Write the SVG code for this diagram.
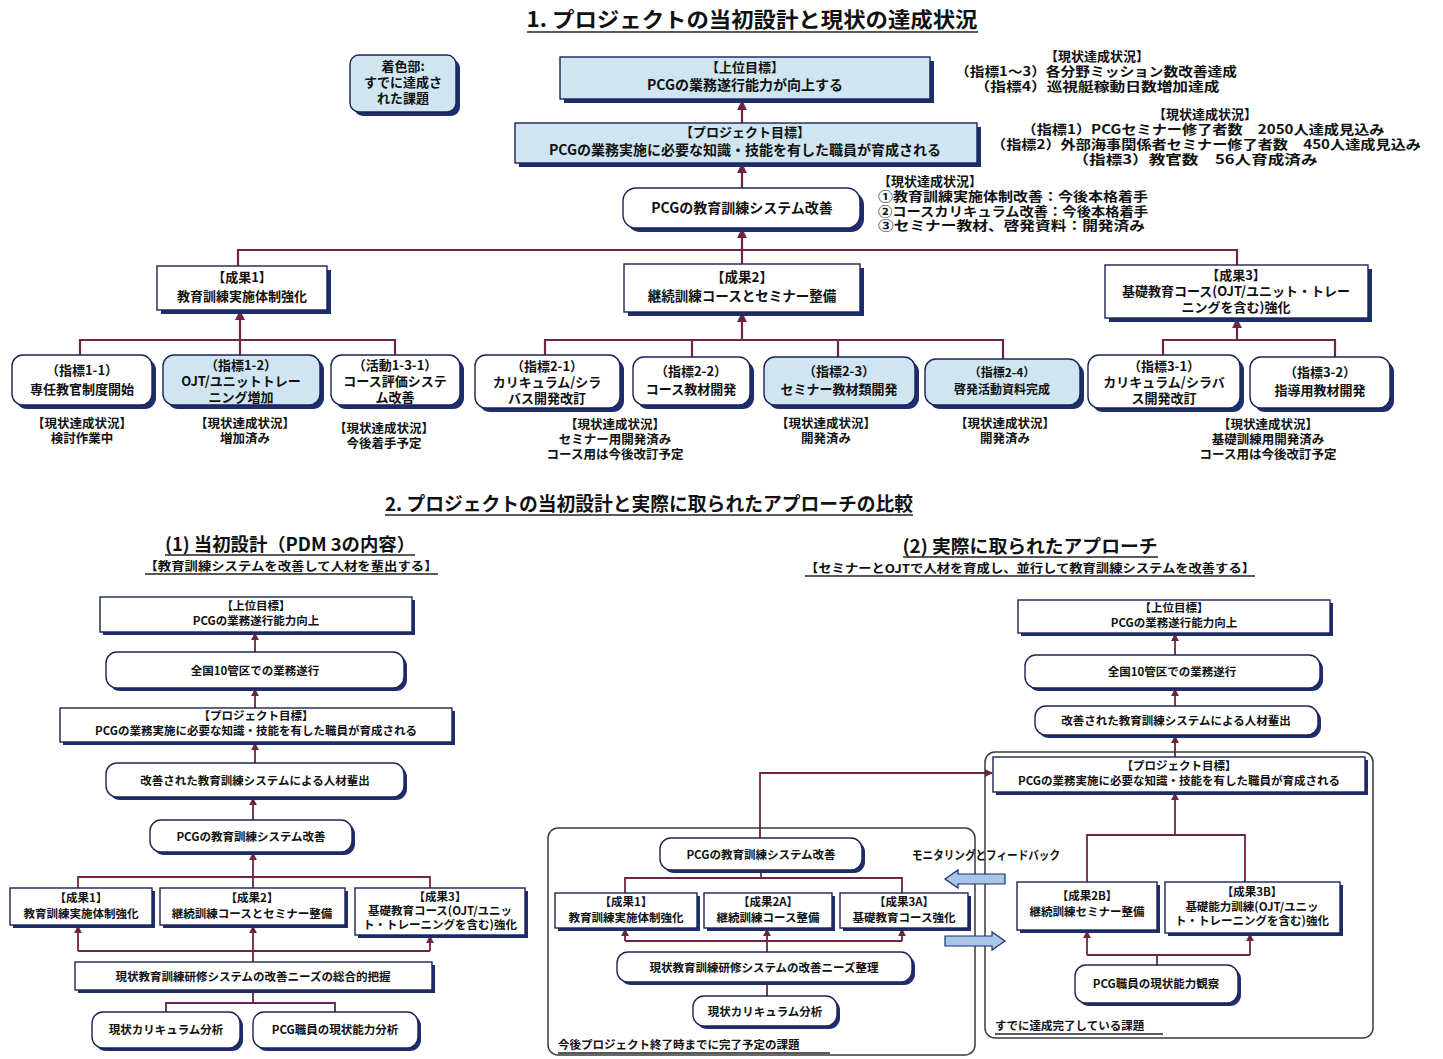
<svg xmlns="http://www.w3.org/2000/svg" width="1443" height="1059" viewBox="0 0 1443 1059">
<defs>
<style>
.sh{fill:#1e2d6e}
.bx{fill:#ffffff;stroke:#1c2354;stroke-width:1.4}
.bl{fill:#cfe5f1;stroke:#1c2354;stroke-width:1.4}
.t{font-family:"Noto Sans CJK JP","Noto Sans",sans-serif;font-weight:700;fill:#111;text-anchor:middle}
.ts{font-family:"Noto Sans CJK JP","Noto Sans",sans-serif;font-weight:700;fill:#111;text-anchor:start}
.f21{font-size:21px}.f19{font-size:19px}.f18{font-size:18px}.f14{font-size:14px}.f135{font-size:13.5px}.f13{font-size:13px}.f125{font-size:12.5px}.f12{font-size:12px}.f115{font-size:11.5px}.f11{font-size:11px}
.ln{fill:none;stroke:#6d2445;stroke-width:2.2}
.ln2{fill:none;stroke:#6d2445;stroke-width:1.8}
.ul{stroke:#222;stroke-width:1.5}
.ctr{fill:none;stroke:#3a3a3a;stroke-width:1.5}
.barrow{fill:#a8c6e6;stroke:#1e2d6e;stroke-width:1.2}
</style>
<marker id="ah" viewBox="0 0 10 10" refX="9" refY="5" markerWidth="4.5" markerHeight="4.5" orient="auto"><path d="M0,0 L10,5 L0,10 z" fill="#6d2445"/></marker>
</defs>
<rect x="0" y="0" width="1443" height="1059" fill="#ffffff"/>

<!-- Titles -->
<g id="title1">
<text class="t f21" x="752" y="27" textLength="451" lengthAdjust="spacingAndGlyphs">1. プロジェクトの当初設計と現状の達成状況</text>
<line class="ul" x1="527" y1="32" x2="978" y2="32"/>
</g>
<g id="title2">
<text class="t f19" x="649" y="511" textLength="528" lengthAdjust="spacingAndGlyphs">2. プロジェクトの当初設計と実際に取られたアプローチの比較</text>
<line class="ul" x1="385" y1="515" x2="913" y2="515"/>
</g>
<g id="sub-left">
<text class="t f18" x="290" y="551" textLength="250" lengthAdjust="spacingAndGlyphs">(1) 当初設計（PDM 3の内容）</text>
<line class="ul" x1="165" y1="555" x2="415" y2="555"/>
<text class="t f12" x="291" y="571" textLength="293" lengthAdjust="spacingAndGlyphs">【教育訓練システムを改善して人材を輩出する】</text>
<line class="ul" x1="145" y1="574" x2="438" y2="574"/>
</g>
<g id="sub-right">
<text class="t f18" x="1030" y="553" textLength="255" lengthAdjust="spacingAndGlyphs">(2) 実際に取られたアプローチ</text>
<line class="ul" x1="903" y1="557" x2="1158" y2="557"/>
<text class="t f12" x="1030" y="573" textLength="450" lengthAdjust="spacingAndGlyphs">【セミナーとOJTで人材を育成し、並行して教育訓練システムを改善する】</text>
<line class="ul" x1="805" y1="576" x2="1255" y2="576"/>
</g>

<!-- Connectors -->
<g id="connectors">
<path class="ln" d="M742,123 V101" marker-end="url(#ah)"/>
<path class="ln" d="M742,188 V164" marker-end="url(#ah)"/>
<path class="ln" d="M742,250 V229" marker-end="url(#ah)"/>
<path class="ln" d="M238,266 V250 H1237 V265"/>
<path class="ln" d="M742,250 V264"/>
<path class="ln" d="M80,355 V340 H395 V355"/>
<path class="ln" d="M240,355 V311" marker-end="url(#ah)"/>
<path class="ln" d="M545,355 V340 H1003 V359"/>
<path class="ln" d="M692,340 V357"/>
<path class="ln" d="M838,340 V357"/>
<path class="ln" d="M742,340 V313" marker-end="url(#ah)"/>
<path class="ln" d="M1163,355 V340 H1335 V357"/>
<path class="ln" d="M1237,340 V319" marker-end="url(#ah)"/>
<path class="ln2" d="M255,652 V633" marker-end="url(#ah)"/>
<path class="ln2" d="M255,708 V689" marker-end="url(#ah)"/>
<path class="ln2" d="M255,763 V743" marker-end="url(#ah)"/>
<path class="ln2" d="M253,820 V798" marker-end="url(#ah)"/>
<path class="ln2" d="M78,888 V877 H430 V888"/>
<path class="ln2" d="M253,888 V853" marker-end="url(#ah)"/>
<path class="ln2" d="M78,951 H430"/>
<path class="ln2" d="M78,951 V926" marker-end="url(#ah)"/>
<path class="ln2" d="M253,962 V926" marker-end="url(#ah)"/>
<path class="ln2" d="M430,951 V936" marker-end="url(#ah)"/>
<path class="ln2" d="M166,1012 V1003 H335 V1012"/>
<path class="ln2" d="M253,1003 V990"/>
<path class="ln2" d="M1175,655 V634" marker-end="url(#ah)"/>
<path class="ln2" d="M1175,706 V689" marker-end="url(#ah)"/>
<path class="ln2" d="M1175,757 V736" marker-end="url(#ah)"/>
<path class="ln2" d="M760,838 V773 H992" marker-end="url(#ah)"/>
<path class="ln2" d="M625,893 V878 H902 V893"/>
<path class="ln2" d="M761,870 V878"/>
<path class="ln2" d="M625,941 H902"/>
<path class="ln2" d="M625,941 V929" marker-end="url(#ah)"/>
<path class="ln2" d="M767,952 V929" marker-end="url(#ah)"/>
<path class="ln2" d="M902,941 V929" marker-end="url(#ah)"/>
<path class="ln2" d="M767,982 V996"/>
<path class="ln2" d="M1087,882 V835 H1245 V882"/>
<path class="ln2" d="M1175,835 V793" marker-end="url(#ah)"/>
<path class="ln2" d="M1087,955 H1250"/>
<path class="ln2" d="M1087,955 V931" marker-end="url(#ah)"/>
<path class="ln2" d="M1250,955 V934" marker-end="url(#ah)"/>
<path class="ln2" d="M1157,965 V955"/>
</g>

<!-- Section 1 nodes -->
<g id="legend">
<rect class="sh" x="354" y="59" width="106" height="57" rx="9"/>
<rect class="bl" x="350" y="55" width="106" height="57" rx="9"/>
<text class="t f13" x="403" y="71"><tspan x="403">着色部:</tspan><tspan x="403" dy="16">すでに達成さ</tspan><tspan x="403" dy="16">れた課題</tspan></text>
</g>
<g id="top-goal">
<rect class="sh" x="564" y="61" width="370" height="42"/>
<rect class="bl" x="560" y="57" width="370" height="42"/>
<text class="t f13" x="745" y="72"><tspan x="745">【上位目標】</tspan><tspan x="745" dy="18" style="font-size:14px">PCGの業務遂行能力が向上する</tspan></text>
</g>
<g id="top-status">
<text class="t f13" x="1097" y="61"><tspan x="1097">【現状達成状況】</tspan><tspan x="1096" dy="15" textLength="282" lengthAdjust="spacingAndGlyphs">（指標1～3）各分野ミッション数改善達成</tspan><tspan x="1097" dy="15" textLength="245" lengthAdjust="spacingAndGlyphs">（指標4）巡視艇稼動日数増加達成</tspan></text>
</g>
<g id="project-goal">
<rect class="sh" x="519" y="127" width="462" height="40"/>
<rect class="bl" x="515" y="123" width="462" height="40"/>
<text class="t f13" x="745" y="137"><tspan x="745">【プロジェクト目標】</tspan><tspan x="745" dy="18" style="font-size:14px">PCGの業務実施に必要な知識・技能を有した職員が育成される</tspan></text>
</g>
<g id="project-status">
<text class="t f13" x="1205" y="119"><tspan x="1205">【現状達成状況】</tspan><tspan x="1203" dy="15" textLength="363" lengthAdjust="spacingAndGlyphs">（指標1）PCGセミナー修了者数　2050人達成見込み</tspan><tspan x="1206" dy="15" textLength="430" lengthAdjust="spacingAndGlyphs">（指標2）外部海事関係者セミナー修了者数　450人達成見込み</tspan><tspan x="1195" dy="15" textLength="245" lengthAdjust="spacingAndGlyphs">（指標3）教官数　56人育成済み</tspan></text>
</g>
<g id="system">
<rect class="sh" x="627" y="192" width="237" height="40" rx="13"/>
<rect class="bx" x="623" y="188" width="237" height="40" rx="13"/>
<text class="t f14" x="742" y="213">PCGの教育訓練システム改善</text>
</g>
<g id="system-status">
<text class="ts f13" x="878" y="186"><tspan x="878">【現状達成状況】</tspan><tspan x="878" dy="15" textLength="270" lengthAdjust="spacingAndGlyphs">①教育訓練実施体制改善：今後本格着手</tspan><tspan x="878" dy="14.5" textLength="270" lengthAdjust="spacingAndGlyphs">②コースカリキュラム改善：今後本格着手</tspan><tspan x="878" dy="14.5" textLength="267" lengthAdjust="spacingAndGlyphs">③セミナー教材、啓発資料：開発済み</tspan></text>
</g>
<g id="out1">
<rect class="sh" x="161" y="270" width="170" height="44"/>
<rect class="bx" x="157" y="266" width="170" height="44"/>
<text class="t f13" x="242" y="282"><tspan x="242">【成果1】</tspan><tspan x="242" dy="19">教育訓練実施体制強化</tspan></text>
</g>
<g id="out2">
<rect class="sh" x="628" y="268" width="236" height="48"/>
<rect class="bx" x="624" y="264" width="236" height="48"/>
<text class="t f135" x="742" y="282"><tspan x="742">【成果2】</tspan><tspan x="742" dy="19">継続訓練コースとセミナー整備</tspan></text>
</g>
<g id="out3">
<rect class="sh" x="1109" y="269" width="263" height="53"/>
<rect class="bx" x="1105" y="265" width="263" height="53"/>
<text class="t f13" x="1236" y="280"><tspan x="1236">【成果3】</tspan><tspan x="1236" dy="16">基礎教育コース(OJT/ユニット・トレー</tspan><tspan x="1236" dy="16">ニングを含む)強化</tspan></text>
</g>
<g id="ind1-1">
<rect class="sh" x="16" y="359" width="140" height="50" rx="11"/>
<rect class="bx" x="12" y="355" width="140" height="50" rx="11"/>
<text class="t f13" x="82" y="375"><tspan x="82">（指標1-1）</tspan><tspan x="82" dy="19">専任教官制度開始</tspan></text>
</g>
<g id="ind1-2">
<rect class="sh" x="167" y="359" width="157" height="50" rx="11"/>
<rect class="bl" x="163" y="355" width="157" height="50" rx="11"/>
<text class="t f13" x="241" y="370"><tspan x="241">（指標1-2）</tspan><tspan x="241" dy="16">OJT/ユニットトレー</tspan><tspan x="241" dy="16">ニング増加</tspan></text>
</g>
<g id="act1-3-1">
<rect class="sh" x="335" y="359" width="129" height="50" rx="11"/>
<rect class="bx" x="331" y="355" width="129" height="50" rx="11"/>
<text class="t f13" x="395" y="370"><tspan x="395">（活動1-3-1）</tspan><tspan x="395" dy="16">コース評価システ</tspan><tspan x="395" dy="16">ム改善</tspan></text>
</g>
<g id="ind2-1">
<rect class="sh" x="479" y="359" width="145" height="53" rx="11"/>
<rect class="bx" x="475" y="355" width="145" height="53" rx="11"/>
<text class="t f13" x="547" y="371"><tspan x="547">（指標2-1）</tspan><tspan x="547" dy="16">カリキュラム/シラ</tspan><tspan x="547" dy="16">バス開発改訂</tspan></text>
</g>
<g id="ind2-2">
<rect class="sh" x="637" y="361" width="117" height="48" rx="11"/>
<rect class="bx" x="633" y="357" width="117" height="48" rx="11"/>
<text class="t f13" x="691" y="376"><tspan x="691">（指標2-2）</tspan><tspan x="691" dy="18">コース教材開発</tspan></text>
</g>
<g id="ind2-3">
<rect class="sh" x="768" y="361" width="151" height="48" rx="11"/>
<rect class="bl" x="764" y="357" width="151" height="48" rx="11"/>
<text class="t f13" x="839" y="376"><tspan x="839">（指標2-3）</tspan><tspan x="839" dy="18">セミナー教材類開発</tspan></text>
</g>
<g id="ind2-4">
<rect class="sh" x="929" y="363" width="155" height="46" rx="11"/>
<rect class="bl" x="925" y="359" width="155" height="46" rx="11"/>
<text class="t f12" x="1002" y="377"><tspan x="1002">（指標2-4）</tspan><tspan x="1002" dy="17">啓発活動資料完成</tspan></text>
</g>
<g id="ind3-1">
<rect class="sh" x="1092" y="359" width="152" height="53" rx="11"/>
<rect class="bx" x="1088" y="355" width="152" height="53" rx="11"/>
<text class="t f13" x="1164" y="371"><tspan x="1164">（指標3-1）</tspan><tspan x="1164" dy="16">カリキュラム/シラバ</tspan><tspan x="1164" dy="16">ス開発改訂</tspan></text>
</g>
<g id="ind3-2">
<rect class="sh" x="1254" y="361" width="140" height="51" rx="11"/>
<rect class="bx" x="1250" y="357" width="140" height="51" rx="11"/>
<text class="t f13" x="1320" y="377"><tspan x="1320">（指標3-2）</tspan><tspan x="1320" dy="18">指導用教材開発</tspan></text>
</g>
<g id="status-row">
<text class="t f125" x="82" y="428"><tspan x="82">【現状達成状況】</tspan><tspan x="82" dy="15">検討作業中</tspan></text>
<text class="t f125" x="245" y="428"><tspan x="245">【現状達成状況】</tspan><tspan x="245" dy="15">増加済み</tspan></text>
<text class="t f125" x="384" y="433"><tspan x="384">【現状達成状況】</tspan><tspan x="384" dy="15">今後着手予定</tspan></text>
<text class="t f125" x="615" y="429"><tspan x="615">【現状達成状況】</tspan><tspan x="615" dy="15">セミナー用開発済み</tspan><tspan x="615" dy="15">コース用は今後改訂予定</tspan></text>
<text class="t f125" x="826" y="428"><tspan x="826">【現状達成状況】</tspan><tspan x="826" dy="15">開発済み</tspan></text>
<text class="t f125" x="1005" y="428"><tspan x="1005">【現状達成状況】</tspan><tspan x="1005" dy="15">開発済み</tspan></text>
<text class="t f125" x="1268" y="429"><tspan x="1268">【現状達成状況】</tspan><tspan x="1268" dy="15">基礎訓練用開発済み</tspan><tspan x="1268" dy="15">コース用は今後改訂予定</tspan></text>
</g>

<!-- Section 2 left nodes -->
<g id="L-top">
<rect class="sh" x="103" y="600" width="312" height="35"/>
<rect class="bx" x="100" y="597" width="312" height="35"/>
<text class="t f115" x="256" y="610"><tspan x="256">【上位目標】</tspan><tspan x="256" dy="15">PCGの業務遂行能力向上</tspan></text>
</g>
<g id="L-nation">
<rect class="sh" x="109" y="655" width="298" height="36" rx="11"/>
<rect class="bx" x="106" y="652" width="298" height="36" rx="11"/>
<text class="t f115" x="255" y="675">全国10管区での業務遂行</text>
</g>
<g id="L-pgoal">
<rect class="sh" x="63" y="711" width="392" height="34"/>
<rect class="bx" x="60" y="708" width="392" height="34"/>
<text class="t f115" x="256" y="720"><tspan x="256">【プロジェクト目標】</tspan><tspan x="256" dy="15">PCGの業務実施に必要な知識・技能を有した職員が育成される</tspan></text>
</g>
<g id="L-improved">
<rect class="sh" x="109" y="766" width="298" height="34" rx="11"/>
<rect class="bx" x="106" y="763" width="298" height="34" rx="11"/>
<text class="t f115" x="255" y="785">改善された教育訓練システムによる人材輩出</text>
</g>
<g id="L-system">
<rect class="sh" x="153" y="823" width="202" height="32" rx="11"/>
<rect class="bx" x="150" y="820" width="202" height="32" rx="11"/>
<text class="t f115" x="251" y="841">PCGの教育訓練システム改善</text>
</g>
<g id="L-out1">
<rect class="sh" x="13" y="891" width="142" height="37"/>
<rect class="bx" x="10" y="888" width="142" height="37"/>
<text class="t f115" x="81" y="902"><tspan x="81">【成果1】</tspan><tspan x="81" dy="16">教育訓練実施体制強化</tspan></text>
</g>
<g id="L-out2">
<rect class="sh" x="163" y="891" width="185" height="37"/>
<rect class="bx" x="160" y="888" width="185" height="37"/>
<text class="t f115" x="252" y="902"><tspan x="252">【成果2】</tspan><tspan x="252" dy="16">継続訓練コースとセミナー整備</tspan></text>
</g>
<g id="L-out3">
<rect class="sh" x="358" y="891" width="170" height="47"/>
<rect class="bx" x="355" y="888" width="170" height="47"/>
<text class="t f115" x="440" y="901"><tspan x="440">【成果3】</tspan><tspan x="440" dy="14">基礎教育コース(OJT/ユニッ</tspan><tspan x="440" dy="14">ト・トレーニングを含む)強化</tspan></text>
</g>
<g id="L-needs">
<rect class="sh" x="78" y="965" width="357" height="28"/>
<rect class="bx" x="75" y="962" width="357" height="28"/>
<text class="t f115" x="253" y="981">現状教育訓練研修システムの改善ニーズの総合的把握</text>
</g>
<g id="L-curr">
<rect class="sh" x="95" y="1015" width="148" height="36" rx="11"/>
<rect class="bx" x="92" y="1012" width="148" height="36" rx="11"/>
<text class="t f115" x="166" y="1034">現状カリキュラム分析</text>
</g>
<g id="L-staff">
<rect class="sh" x="256" y="1015" width="165" height="36" rx="11"/>
<rect class="bx" x="253" y="1012" width="165" height="36" rx="11"/>
<text class="t f115" x="335" y="1034">PCG職員の現状能力分析</text>
</g>

<!-- Section 2 right nodes -->
<g id="R-top">
<rect class="sh" x="1021" y="603" width="312" height="33"/>
<rect class="bx" x="1018" y="600" width="312" height="33"/>
<text class="t f115" x="1174" y="612"><tspan x="1174">【上位目標】</tspan><tspan x="1174" dy="15">PCGの業務遂行能力向上</tspan></text>
</g>
<g id="R-nation">
<rect class="sh" x="1028" y="658" width="295" height="33" rx="11"/>
<rect class="bx" x="1025" y="655" width="295" height="33" rx="11"/>
<text class="t f115" x="1172" y="676">全国10管区での業務遂行</text>
</g>
<g id="R-improved">
<rect class="sh" x="1038" y="709" width="283" height="29" rx="11"/>
<rect class="bx" x="1035" y="706" width="283" height="29" rx="11"/>
<text class="t f115" x="1176" y="725">改善された教育訓練システムによる人材輩出</text>
</g>
<g id="R-done-area">
<rect class="ctr" x="985" y="752" width="388" height="286" rx="10"/>
<text class="ts f115" x="995" y="1030">すでに達成完了している課題</text>
<line class="ul" x1="995" y1="1034" x2="1163" y2="1034"/>
</g>
<g id="R-pgoal">
<rect class="sh" x="996" y="760" width="372" height="35"/>
<rect class="bx" x="993" y="757" width="372" height="35"/>
<text class="t f115" x="1179" y="770"><tspan x="1179">【プロジェクト目標】</tspan><tspan x="1179" dy="15">PCGの業務実施に必要な知識・技能を有した職員が育成される</tspan></text>
</g>
<g id="R-out2B">
<rect class="sh" x="1020" y="885" width="140" height="48"/>
<rect class="bx" x="1017" y="882" width="140" height="48"/>
<text class="t f115" x="1087" y="900"><tspan x="1087">【成果2B】</tspan><tspan x="1087" dy="16">継続訓練セミナー整備</tspan></text>
</g>
<g id="R-out3B">
<rect class="sh" x="1168" y="885" width="175" height="51"/>
<rect class="bx" x="1165" y="882" width="175" height="51"/>
<text class="t f115" x="1252" y="896"><tspan x="1252">【成果3B】</tspan><tspan x="1252" dy="15">基礎能力訓練(OJT/ユニッ</tspan><tspan x="1252" dy="14">ト・トレーニングを含む)強化</tspan></text>
</g>
<g id="R-observe">
<rect class="sh" x="1078" y="968" width="163" height="38" rx="11"/>
<rect class="bx" x="1075" y="965" width="163" height="38" rx="11"/>
<text class="t f115" x="1156" y="988">PCG職員の現状能力観察</text>
</g>
<g id="R-future-area">
<rect class="ctr" x="548" y="828" width="427" height="227" rx="10"/>
<text class="ts f115" x="558" y="1049">今後プロジェクト終了時までに完了予定の課題</text>
<line class="ul" x1="558" y1="1053" x2="830" y2="1053"/>
</g>
<g id="R-system">
<rect class="sh" x="663" y="841" width="202" height="32" rx="11"/>
<rect class="bx" x="660" y="838" width="202" height="32" rx="11"/>
<text class="t f115" x="761" y="859">PCGの教育訓練システム改善</text>
</g>
<g id="R-out1">
<rect class="sh" x="558" y="896" width="142" height="35"/>
<rect class="bx" x="555" y="893" width="142" height="35"/>
<text class="t f115" x="626" y="906"><tspan x="626">【成果1】</tspan><tspan x="626" dy="16">教育訓練実施体制強化</tspan></text>
</g>
<g id="R-out2A">
<rect class="sh" x="707" y="896" width="128" height="35"/>
<rect class="bx" x="704" y="893" width="128" height="35"/>
<text class="t f115" x="768" y="906"><tspan x="768">【成果2A】</tspan><tspan x="768" dy="16">継続訓練コース整備</tspan></text>
</g>
<g id="R-out3A">
<rect class="sh" x="843" y="896" width="128" height="35"/>
<rect class="bx" x="840" y="893" width="128" height="35"/>
<text class="t f115" x="904" y="906"><tspan x="904">【成果3A】</tspan><tspan x="904" dy="16">基礎教育コース強化</tspan></text>
</g>
<g id="R-needs">
<rect class="sh" x="620" y="955" width="295" height="30" rx="11"/>
<rect class="bx" x="617" y="952" width="295" height="30" rx="11"/>
<text class="t f115" x="764" y="972">現状教育訓練研修システムの改善ニーズ整理</text>
</g>
<g id="R-curr">
<rect class="sh" x="696" y="999" width="144" height="30" rx="11"/>
<rect class="bx" x="693" y="996" width="144" height="30" rx="11"/>
<text class="t f115" x="765" y="1016">現状カリキュラム分析</text>
</g>
<g id="feedback">
<text class="ts f12" x="912" y="860" textLength="148" lengthAdjust="spacingAndGlyphs">モニタリングとフィードバック</text>
<polygon class="barrow" points="945,879 958,870 958,874 1005,874 1005,884 958,884 958,888"/>
<polygon class="barrow" points="1005,941 992,932 992,936 945,936 945,946 992,946 992,950"/>
</g>
</svg>
